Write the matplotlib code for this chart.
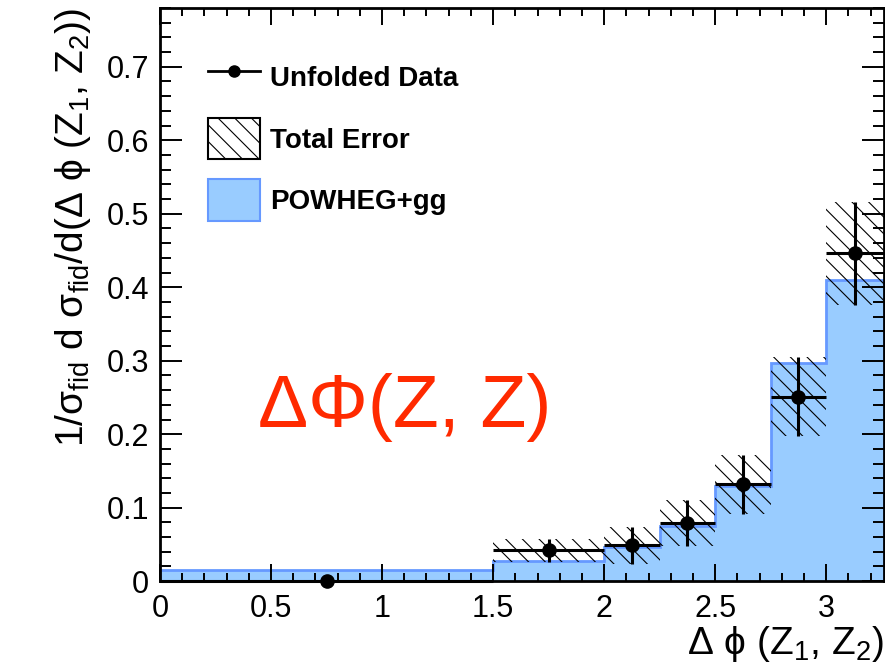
# Delta phi(Z1, Z2) unfolded distribution vs POWHEG+gg, ROOT-like style
import numpy as np
import matplotlib.pyplot as plt
from matplotlib.lines import Line2D
from matplotlib.patches import Patch
from matplotlib.ticker import MultipleLocator, FuncFormatter

plt.rcParams['font.family'] = ['Liberation Sans', 'DejaVu Sans']
plt.rcParams['mathtext.default'] = 'regular'
plt.rcParams['hatch.linewidth'] = 0.8

# bin edges and values
bin_edges = [0.0, 1.5, 2.0, 2.25, 2.5, 2.75, 3.0, 3.26]
powheg_gg = [0.015, 0.027, 0.047, 0.075, 0.130, 0.297, 0.410]
data_y = [0.0, 0.042, 0.049, 0.079, 0.132, 0.251, 0.446]
data_err = [0.0, 0.016, 0.025, 0.031, 0.040, 0.054, 0.070]

edges = np.array(bin_edges)
centers = 0.5 * (edges[1:] + edges[:-1])
halfw = 0.5 * (edges[1:] - edges[:-1])
data_y = np.array(data_y)
data_err = np.array(data_err)

fig = plt.figure(figsize=(8.85, 6.68), dpi=100)
ax = fig.add_axes([0.1808, 0.130, 0.8180, 0.858])

# MC histogram
ax.stairs(powheg_gg, edges, fill=True, color='#99ccff', zorder=1)
ax.stairs(powheg_gg, edges, color='#6699ff', linewidth=2, zorder=1.5)

# total error band (hatched)
ax.bar(centers, 2 * data_err, width=2 * halfw, bottom=data_y - data_err,
       color='none', edgecolor='black', linewidth=0, hatch='\\\\', zorder=2)

# unfolded data
ax.errorbar(centers, data_y, xerr=halfw, yerr=data_err, fmt='o', color='black',
            markersize=9.5, elinewidth=2.2, capsize=0, zorder=4, clip_on=False)

ax.set_xlim(0, 3.26)
ax.set_ylim(0, 0.78)

ax.xaxis.set_major_locator(MultipleLocator(0.5))
ax.xaxis.set_minor_locator(MultipleLocator(0.1))
ax.yaxis.set_major_locator(MultipleLocator(0.1))
ax.yaxis.set_minor_locator(MultipleLocator(0.02))
fmt = FuncFormatter(lambda v, p: '%g' % round(v, 3))
ax.xaxis.set_major_formatter(fmt)
ax.yaxis.set_major_formatter(fmt)

ax.tick_params(which='both', direction='in', top=True, right=True, width=1.4,
               labelsize=22)
ax.tick_params(axis='x', which='major', length=12, pad=9)
ax.tick_params(axis='x', which='minor', length=5.5)
ax.tick_params(axis='y', which='major', length=16, pad=8)
ax.tick_params(axis='y', which='minor', length=8)
for s in ax.spines.values():
    s.set_linewidth(2)

ax.set_xlabel('Δ ϕ (Z$_1$, Z$_2$)', fontsize=28, loc='right', labelpad=0)
ax.set_ylabel('1/σ$_{fid}$ d σ$_{fid}$/d(Δ ϕ (Z$_1$, Z$_2$))', fontsize=28,
              loc='top', labelpad=10)

ax.text(1.10, 0.236, 'ΔΦ(Z, Z)', color='#ff2a00', fontsize=54,
        ha='center', va='center')

handles = [
    Line2D([], [], color='black', marker='o', markersize=8, linewidth=2),
    Patch(facecolor='white', edgecolor='black', linewidth=1.5, hatch='\\\\'),
    Patch(facecolor='#99ccff', edgecolor='#6699ff', linewidth=1.5),
]
labels = ['Unfolded Data', 'Total Error', 'POWHEG+gg']
ax.legend(handles, labels, loc='upper left', bbox_to_anchor=(0.066, 0.916),
          frameon=False, prop={'weight': 'bold', 'size': 20},
          handlelength=1.87, handleheight=1.93, labelspacing=0.72,
          handletextpad=0.36, borderpad=0, borderaxespad=0)

plt.savefig('out.png', dpi=100)
